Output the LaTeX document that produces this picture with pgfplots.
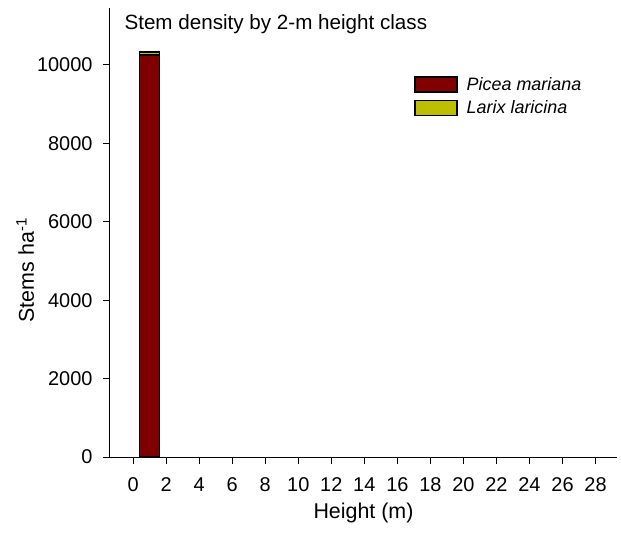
\documentclass[border=0pt]{standalone}
\usepackage{pgfplots}
\pgfplotsset{compat=1.18}
\usepackage{fontspec}
\setmainfont{Liberation Sans}
\usetikzlibrary{calc}
\definecolor{picea}{RGB}{128,0,0}
\definecolor{larix}{RGB}{190,190,0}

\begin{document}
\begin{tikzpicture}
\begin{axis}[
  scale only axis,
  width=507bp, height=449bp,
  xmin=-1.4, xmax=29.3,
  ymin=0, ymax=11450,
  axis x line*=bottom, axis y line*=left,
  axis line style={line width=1bp},
  xtick={0,2,...,28},
  ytick={0,2000,...,10000},
  tick align=outside,
  major tick length=7bp,
  tick style={line width=1bp, black},
  every tick label/.append style={font=\fontsize{20}{24}\selectfont},
  xticklabel style={yshift=-10bp},
  yticklabel style={xshift=-7bp},
  /pgf/number format/assume math mode=true,
  /pgf/number format/1000 sep={},
  scaled y ticks=false,
  xlabel={Height (m)},
  ylabel={Stems ha\textsuperscript{-1}},
  label style={font=\fontsize{21.5}{25}\selectfont},
  xlabel style={at={(axis description cs:0.5,0)}, anchor=base, yshift=-61bp},
  ylabel style={at={(axis description cs:-0.1499,0.416)}, anchor=base},
  ybar stacked,
  bar width=20bp,
  legend cell align=left,
  legend style={draw=none, fill=none, at={(rel axis cs:0.594,0.855)}, anchor=north west,
    font=\fontsize{18}{21}\selectfont\itshape, row sep=5bp},
  legend image code/.code={\draw[#1,draw=black,line width=1.4bp] (0bp,-7.5bp) rectangle (42bp,7.5bp);
    \path (49bp,0bp);},
]
\addplot[fill=picea, draw=black, line width=1.4bp] coordinates {(1,10250)};
\addlegendentry{Picea mariana}
\addplot[fill=larix, draw=black, line width=1.4bp] coordinates {(1,80)};
\addlegendentry{Larix laricina}
\node[anchor=base west, font=\fontsize{20.7}{25}\selectfont] at ($(rel axis cs:0,1)+(11bp,-22bp)$) {Stem density by 2-m height class};
\end{axis}
\pgfresetboundingbox
\path ($(current axis.south west)+(-110bp,-85bp)$) rectangle ($(current axis.north east)+(4bp,8bp)$);
\end{tikzpicture}
\end{document}
